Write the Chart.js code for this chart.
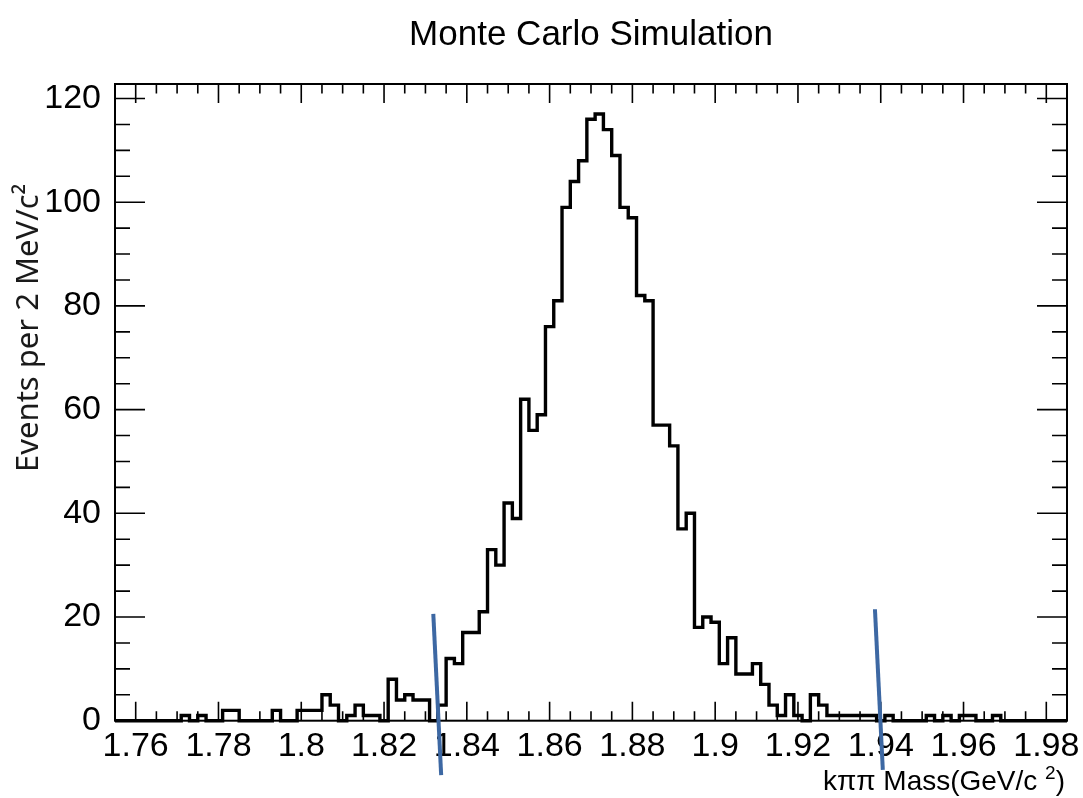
<!DOCTYPE html>
<html>
<head>
<meta charset="utf-8">
<title>Monte Carlo Simulation</title>
<script src="https://cdn.jsdelivr.net/npm/chart.js@4.4.1/dist/chart.umd.min.js"></script>
<style>
  html, body { margin: 0; padding: 0; background: #fff; }
  canvas { display: block; }
</style>
</head>
<body>
<canvas id="massChart" width="1083" height="798"></canvas>
<script>
// k pi pi invariant mass, 2 MeV/c^2 bins starting at 1.755 GeV/c^2
const binLow = 1.755;
const binWidth = 0.002;
const counts = [
    0, 0, 0, 0, 0, 0, 0, 0, 1, 0,
    1, 0, 0, 2, 2, 0, 0, 0, 0, 2,
    0, 0, 2, 2, 2, 5, 3, 0, 1, 3,
    1, 1, 0, 8, 4, 5, 4, 4, 0, 3,
    12, 11, 17, 17, 21, 33, 30, 42, 39, 62,
    56, 59, 76, 81, 99, 104, 108, 116, 117, 114,
    109, 99, 97, 82, 81, 57, 57, 53, 37, 40,
    18, 20, 19, 11, 16, 9, 9, 11, 7, 3,
    1, 5, 1, 0, 5, 3, 1, 1, 1, 1,
    1, 1, 0, 1, 0, 0, 0, 0, 1, 0,
    1, 0, 1, 1, 0, 0, 1, 0, 0, 0,
    0, 0, 0, 0, 0
];

const xRange = [1.755, 1.985];
const yRange = [0, 122.8];
const xTicks = [1.76, 1.78, 1.80, 1.82, 1.84, 1.86, 1.88, 1.90, 1.92, 1.94, 1.96, 1.98];
const yTicks = [0, 20, 40, 60, 80, 100, 120];

// mass window cuts: top and bottom end of each line
const cutTopX = [1.8319, 1.9386];
const cutTopY = [20.6, 21.5];
const cutBottomX = [1.8338, 1.9405];
const cutBottomY = [-10.5, -9.5];

const fontMain = "'Liberation Sans', Arial, Helvetica, sans-serif";

// step outline: one point per left bin edge plus the closing right edge
const histPoints = counts.map((c, i) => ({ x: binLow + i * binWidth, y: c }));
histPoints.push({ x: binLow + counts.length * binWidth, y: counts[counts.length - 1] });

function fmtMass(v) {
    return String(+v.toFixed(2));
}

const framePlugin = {
    id: 'frameTicks',
    afterDatasetsDraw(chart) {
        const ctx = chart.ctx;
        const { left, right, top, bottom } = chart.chartArea;
        const xs = chart.scales.x, ys = chart.scales.y;
        ctx.save();
        ctx.strokeStyle = '#000';
        ctx.lineWidth = 2;
        ctx.strokeRect(left, top, right - left, bottom - top);
        ctx.lineWidth = 1.6;
        ctx.beginPath();
        // x axis: major every 0.02, minor every 0.005, on bottom and top
        for (let k = -1; ; k++) {
            const v = xTicks[0] + k * 0.005;
            if (v > xRange[1] + 1e-9) break;
            const px = xs.getPixelForValue(v);
            const len = k % 4 === 0 ? 19 : 9.5;
            ctx.moveTo(px, bottom); ctx.lineTo(px, bottom - len);
            ctx.moveTo(px, top); ctx.lineTo(px, top + len);
        }
        // y axis: major every 20, minor every 5, on left and right
        for (let v = 0; v <= yRange[1]; v += 5) {
            const py = ys.getPixelForValue(v);
            const len = v % 20 === 0 ? 30 : 15;
            ctx.moveTo(left, py); ctx.lineTo(left + len, py);
            ctx.moveTo(right, py); ctx.lineTo(right - len, py);
        }
        ctx.stroke();
        ctx.restore();
    },
    afterDraw(chart) {
        const ctx = chart.ctx;
        const { left, right } = chart.chartArea;
        const xs = chart.scales.x, ys = chart.scales.y;
        ctx.save();

        // cut lines
        ctx.strokeStyle = '#3d68a3';
        ctx.lineWidth = 4;
        for (let i = 0; i < cutTopX.length; i++) {
            ctx.beginPath();
            ctx.moveTo(xs.getPixelForValue(cutTopX[i]), ys.getPixelForValue(cutTopY[i]));
            ctx.lineTo(xs.getPixelForValue(cutBottomX[i]), ys.getPixelForValue(cutBottomY[i]));
            ctx.stroke();
        }

        ctx.fillStyle = '#000';
        ctx.textBaseline = 'alphabetic';

        // title
        ctx.font = '35px ' + fontMain;
        ctx.textAlign = 'center';
        ctx.fillText('Monte Carlo Simulation', (left + right) / 2, 45);

        // x axis title, right aligned, with superscript 2
        const xEnd = 1065, xBase = 790;
        ctx.textAlign = 'left';
        ctx.font = '28px ' + fontMain;
        const closeW = ctx.measureText(')').width;
        ctx.font = '19px ' + fontMain;
        const supW = ctx.measureText('2').width;
        ctx.font = '28px ' + fontMain;
        const mainTxt = 'k\u03c0\u03c0 Mass(GeV/c ';
        const mainW = ctx.measureText(mainTxt).width;
        let x0 = xEnd - closeW - supW - mainW;
        ctx.fillText(mainTxt, x0, xBase);
        ctx.fillText(')', xEnd - closeW, xBase);
        ctx.font = '19px ' + fontMain;
        ctx.fillText('2', x0 + mainW, xBase - 11);

        // y axis title
        ctx.translate(38, 472);
        ctx.rotate(-Math.PI / 2);
        ctx.font = "31px 'Noto Sans', 'DejaVu Sans', sans-serif";
        ctx.fillStyle = '#1a1a1a';
        ctx.textAlign = 'left';
        ctx.fillText('Events per 2 MeV/c\u00b2', 0, 0);
        ctx.restore();
    }
};

new Chart(document.getElementById('massChart'), {
    type: 'line',
    data: {
        datasets: [{
            data: histPoints,
            stepped: 'before',
            borderColor: '#000',
            borderWidth: 3.4,
            pointRadius: 0,
            fill: false,
            clip: 4
        }]
    },
    options: {
        responsive: false,
        animation: false,
        events: [],
        layout: { padding: { top: 84, right: 16, left: 0, bottom: 0 } },
        plugins: {
            legend: { display: false },
            tooltip: { enabled: false }
        },
        scales: {
            x: {
                type: 'linear',
                min: xRange[0],
                max: xRange[1],
                grid: { display: false, drawTicks: false },
                border: { display: false },
                afterBuildTicks: s => { s.ticks = xTicks.map(v => ({ value: v })); },
                afterFit: s => {
                    s.height = 77.3;
                    s.paddingLeft = 0;
                    s.paddingRight = 0;
                },
                ticks: {
                    callback: v => fmtMass(v),
                    color: '#000',
                    font: { family: fontMain, size: 34 },
                    padding: 6,
                    maxRotation: 0,
                    autoSkip: false
                }
            },
            y: {
                min: yRange[0],
                max: yRange[1],
                grid: { display: false, drawTicks: false },
                border: { display: false },
                afterBuildTicks: s => { s.ticks = yTicks.map(v => ({ value: v })); },
                afterFit: s => {
                    s.width = 115;
                    s.paddingTop = 0;
                    s.paddingBottom = 0;
                },
                ticks: {
                    color: '#000',
                    font: { family: fontMain, size: 34 },
                    padding: 14
                }
            }
        }
    },
    plugins: [framePlugin]
});
</script>
</body>
</html>
